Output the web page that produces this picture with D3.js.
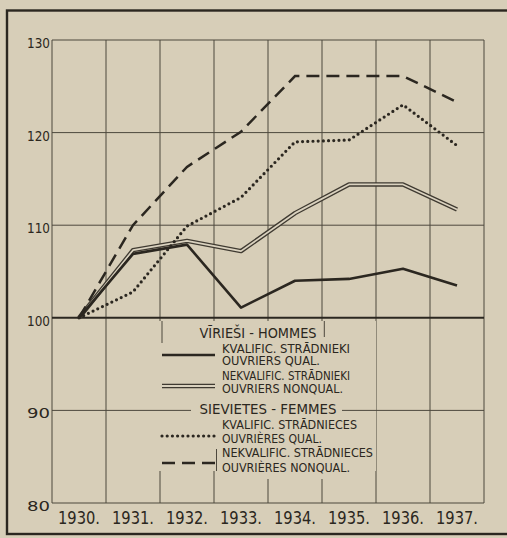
<!DOCTYPE html>
<html><head><meta charset="utf-8">
<script src="https://cdn.jsdelivr.net/npm/d3@7"></script>
<style>
html,body{margin:0;padding:0;background:#d7ceb8;}
svg{display:block;}
</style></head>
<body>
<svg id="chart" width="507" height="538"></svg>
<script>
// ---- data ----
const years = ["1930.", "1931.", "1932.", "1933.", "1934.", "1935.", "1936.", "1937."];
const yTicks = [80, 90, 100, 110, 120, 130];
const menQual = [100, 106.9, 107.9, 101.1, 104.0, 104.2, 105.3, 103.5];
const menUnqual = [100, 107.3, 108.3, 107.2, 111.3, 114.4, 114.4, 111.7];
const womenQual = [100, 102.8, 109.9, 113.0, 119.0, 119.2, 123.0, 118.6];
const womenUnqual = [100, 110.0, 116.3, 120.1, 126.1, 126.1, 126.1, 123.3];
const legendHeaders = ["VĪRIEŠI - HOMMES", "SIEVIETES - FEMMES"];
const legendLabels = [
  ["KVALIFIC. STRĀDNIEKI", "OUVRIERS QUAL."],
  ["NEKVALIFIC. STRĀDNIEKI", "OUVRIERS NONQUAL."],
  ["KVALIFIC. STRĀDNIECES", "OUVRIÈRES QUAL."],
  ["NEKVALIFIC. STRĀDNIECES", "OUVRIÈRES NONQUAL."]
];

// ---- styles ----
const paper = "#d7ceb8";
const ink = "#2b2720";
const gridC = "#4d483d";
const font = "'DejaVu Sans Condensed', 'Liberation Sans Narrow', sans-serif";

const svg = d3.select("#chart");
svg.append("rect").attr("width", 507).attr("height", 538).attr("fill", paper);

const L = 52, R = 484, T = 40, B = 503;
const x = d3.scalePoint().domain(years).range([L, R]).padding(0.5);
const band = (R - L) / years.length;
const y = d3.scaleLinear().domain([80, 130]).range([B, T]);

// outer frame
svg.append("rect").attr("x", 7).attr("y", 10.5).attr("width", 520).attr("height", 523.5)
  .attr("fill", "none").attr("stroke", ink).attr("stroke-width", 2.4);

const g = svg.append("g");
// vertical grid (band boundaries)
const bounds = d3.range(years.length + 1).map(i => L + i * band);
g.selectAll(".vg").data(bounds).join("line")
  .attr("x1", d => d).attr("x2", d => d).attr("y1", T).attr("y2", B)
  .attr("stroke", gridC).attr("stroke-width", 1);
// horizontal grid
g.selectAll(".hg").data(yTicks).join("line")
  .attr("x1", L).attr("x2", R).attr("y1", d => y(d)).attr("y2", d => y(d))
  .attr("stroke", d => d === 100 ? ink : gridC).attr("stroke-width", d => d === 100 ? 2 : 1);

// y tick labels
g.selectAll(".yl").data(yTicks).join("text")
  .attr("x", L - 2).attr("y", d => y(d) + 8).attr("text-anchor", "end")
  .attr("font-family", font).attr("font-size", 14).attr("fill", ink)
  .attr("textLength", 23).attr("lengthAdjust", "spacingAndGlyphs")
  .text(d => d);

// x labels
g.selectAll(".xl").data(years).join("text")
  .attr("x", d => x(d)).attr("y", 524).attr("text-anchor", "middle")
  .attr("font-family", font).attr("font-size", 18).attr("fill", ink)
  .attr("textLength", 42).attr("lengthAdjust", "spacingAndGlyphs")
  .text(d => d);

// legend mask over grid
const lg = svg.append("g");
lg.append("rect").attr("x", 157).attr("y", 321).attr("width", 219).attr("height", 150).attr("fill", paper);
lg.append("rect").attr("x", 262).attr("y", 470).attr("width", 70).attr("height", 9).attr("fill", paper);
// reconnecting grid segments
const segs = [[162, 321, 162, 343], [324.3, 321, 324.3, 337], [216.5, 449, 216.5, 471], [157, y(90), 191, y(90)], [342, y(90), 376, y(90)]];
lg.selectAll(".sg").data(segs).join("line")
  .attr("x1", d => d[0]).attr("y1", d => d[1]).attr("x2", d => d[2]).attr("y2", d => d[3])
  .attr("stroke", gridC).attr("stroke-width", 1);

// line styles
function styleLine(sel, kind) {
  if (kind === "solid") {
    sel.attr("stroke", ink).attr("stroke-width", 2.6).attr("fill", "none").attr("stroke-linejoin", "round");
  } else if (kind === "dotted") {
    sel.attr("stroke", ink).attr("stroke-width", 3.2).attr("fill", "none")
      .attr("stroke-dasharray", "0 5.2").attr("stroke-linecap", "round");
  } else if (kind === "dashed") {
    sel.attr("stroke", ink).attr("stroke-width", 2.5).attr("fill", "none")
      .attr("stroke-dasharray", "13 7");
  }
}
function drawDouble(parent, dStr) {
  parent.append("path").attr("d", dStr).attr("fill", "none").attr("stroke", "#3f3a31")
    .attr("stroke-width", 4.4).attr("stroke-linejoin", "round");
  parent.append("path").attr("d", dStr).attr("fill", "none").attr("stroke", "#dad2bf")
    .attr("stroke-width", 1.8).attr("stroke-linejoin", "round");
}

const seriesList = [
  {values: menQual, kind: "solid"},
  {values: menUnqual, kind: "double"},
  {values: womenQual, kind: "dotted"},
  {values: womenUnqual, kind: "dashed"}
];
const line = d3.line().x((d, i) => x(years[i])).y(d => y(d));
const lines = svg.append("g");
// draw order: double, solid, dotted, dashed
[1, 0, 2, 3].forEach(k => {
  const s = seriesList[k];
  if (s.kind === "double") drawDouble(lines, line(s.values));
  else styleLine(lines.append("path").attr("d", line(s.values)), s.kind);
});

// legend
const headerPos = [[258, 338, 117], [268, 414, 137]];
legendHeaders.forEach((h, i) => {
  lg.append("text").attr("x", headerPos[i][0]).attr("y", headerPos[i][1]).attr("text-anchor", "middle")
    .attr("font-family", font).attr("font-size", 14).attr("fill", ink)
    .attr("textLength", headerPos[i][2]).attr("lengthAdjust", "spacingAndGlyphs").text(h);
});
const sampleY = [355, 386, 436, 463];
const labelY = [[352.5, 365], [380, 393], [428.5, 443], [456.5, 471.5]];
const labelW = [[128, 98], [128, 121], [135, 100], [151, 128]];
seriesList.forEach((s, i) => {
  const dStr = d3.line()([[162, sampleY[i]], [215, sampleY[i]]]);
  if (s.kind === "double") drawDouble(lg, dStr);
  else styleLine(lg.append("path").attr("d", dStr), s.kind);
  legendLabels[i].forEach((t, j) => {
    lg.append("text").attr("x", 222).attr("y", labelY[i][j])
      .attr("font-family", font).attr("font-size", 12).attr("fill", ink)
      .attr("textLength", labelW[i][j]).attr("lengthAdjust", "spacingAndGlyphs").text(t);
  });
});
</script>
</body></html>
